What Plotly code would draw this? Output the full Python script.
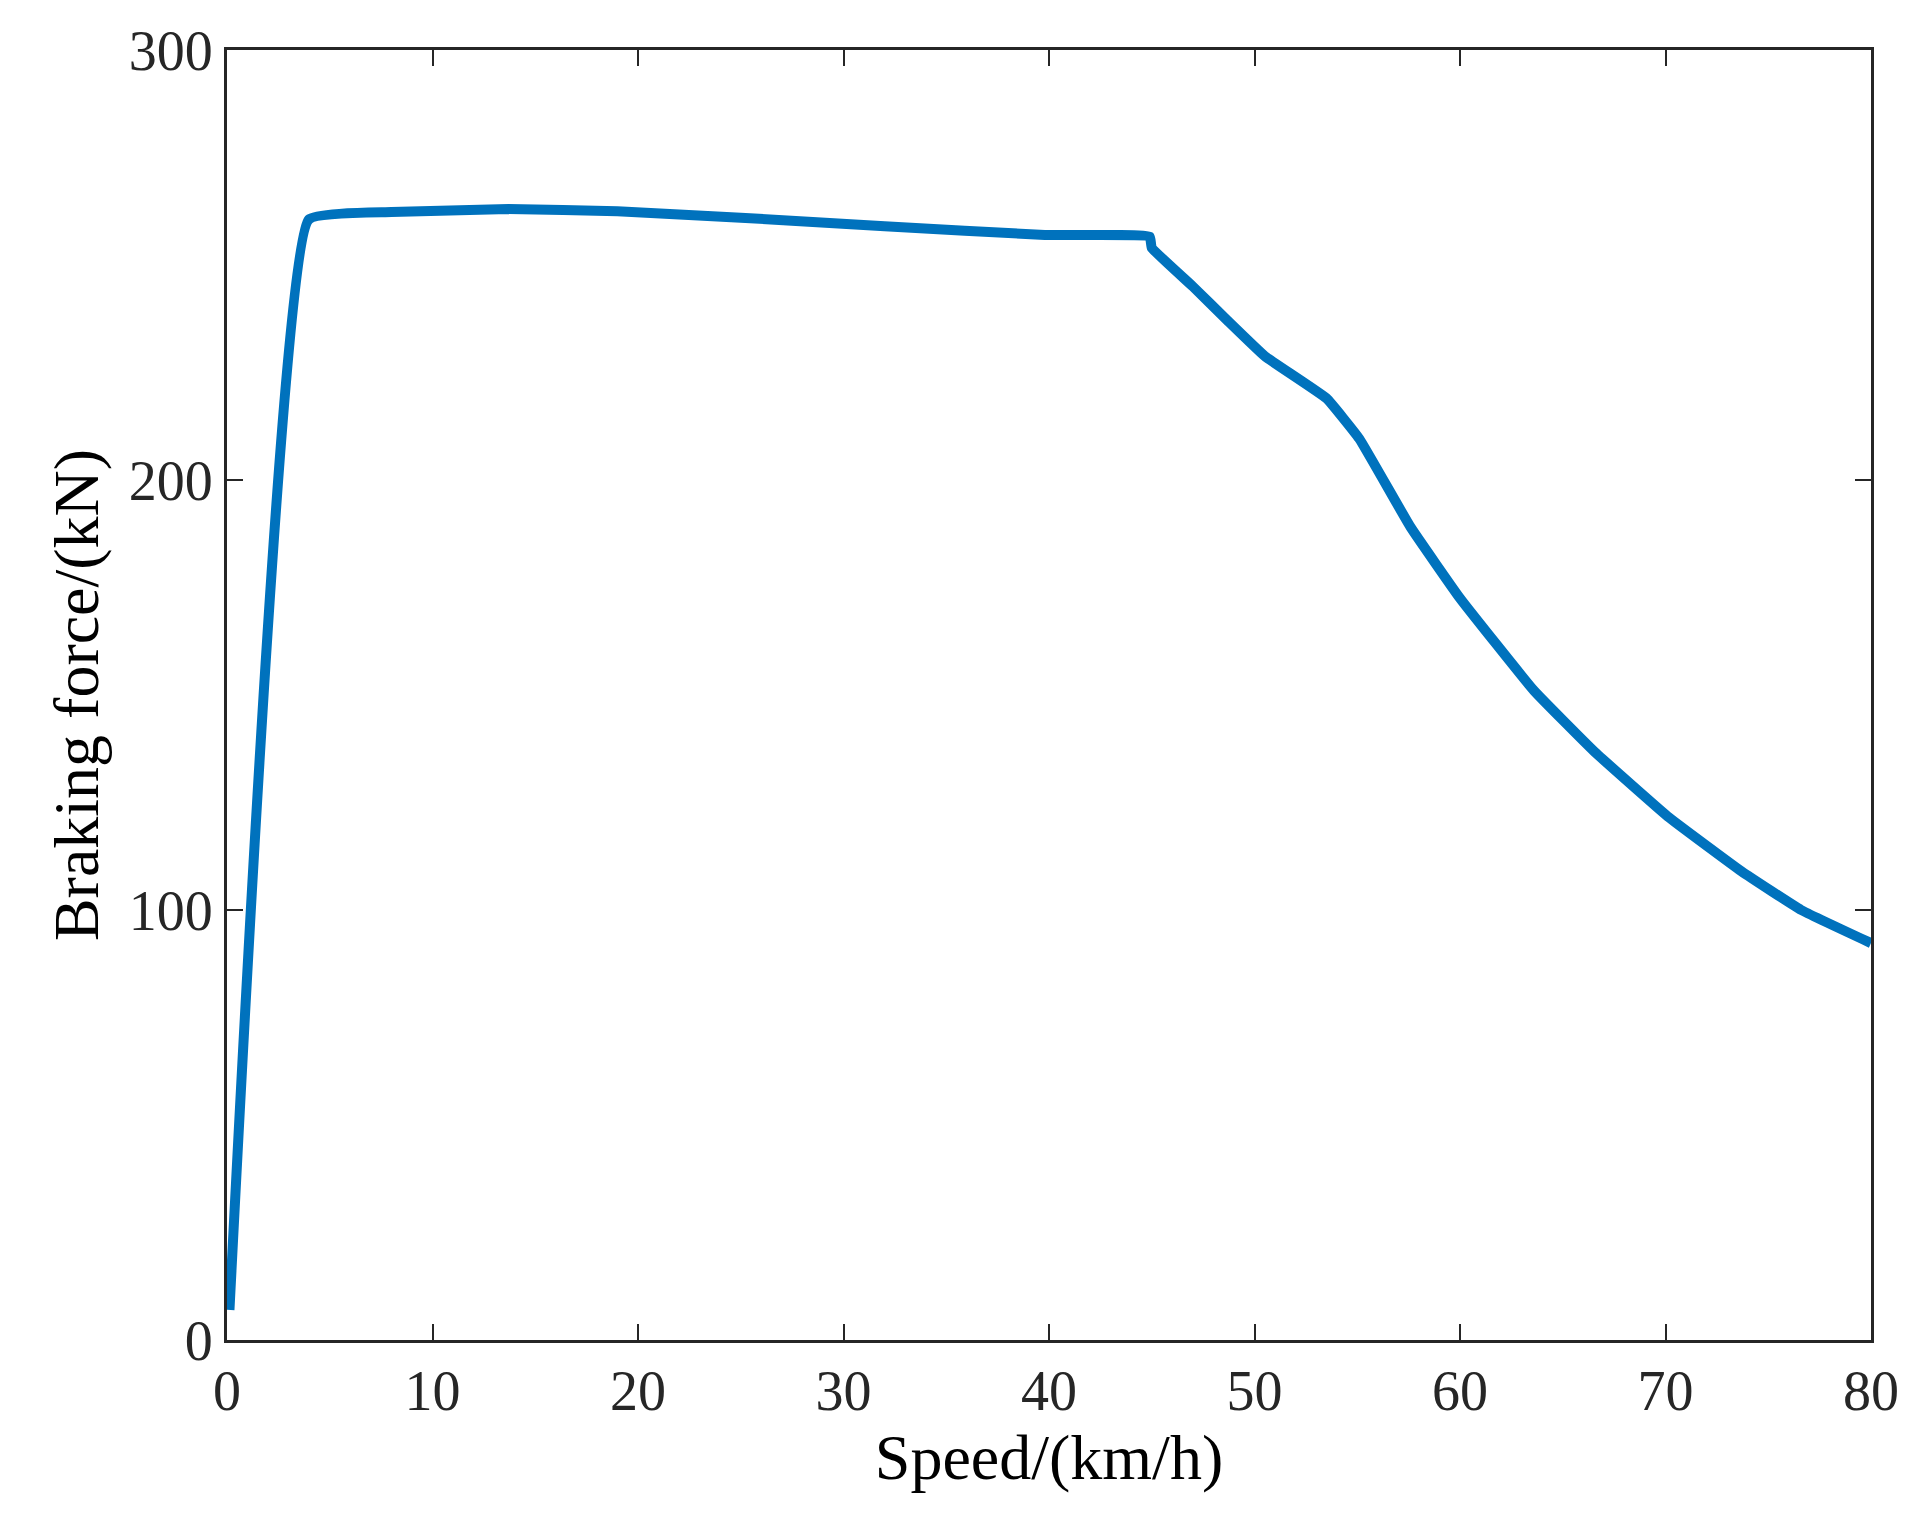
import plotly.graph_objects as go

speed = [0.12, 3.98, 8.0, 13.7, 19.0, 25.0, 32.0, 39.8, 44.9, 45.0, 47.0, 48.7, 50.5, 53.5, 55.1,
         57.6, 60.0, 63.6, 66.5, 70.1, 73.7, 76.6, 80.0]
force = [7.0, 260.6, 262.3, 263.0, 262.5, 261.0, 259.0, 257.0, 256.6, 254.0, 245.0, 237.0, 228.8,
         219.0, 209.6, 189.0, 172.5, 151.0, 137.0, 121.8, 109.0, 100.0, 92.3]

fig = go.Figure(go.Scatter(x=speed, y=force, mode="lines",
                           line=dict(color="#0072BD", width=10, shape="spline", smoothing=0.3)))
font = "Liberation Serif"
ax = dict(showline=True, linecolor="#262626", linewidth=3, mirror="ticks", ticks="inside",
          ticklen=16, tickwidth=2, tickcolor="#262626", showgrid=False, zeroline=False,
          tickfont=dict(family=font, size=56, color="#262626"))
fig.update_xaxes(range=[0, 80], dtick=10, title=dict(text="Speed/(km/h)", font=dict(family=font, size=64, color="black"), standoff=10), **ax)
fig.update_yaxes(range=[0, 300], dtick=100, title=dict(text="Braking force/(kN)", font=dict(family=font, size=64, color="black"), standoff=10), **ax)
fig.update_layout(width=1913, height=1521, margin=dict(l=219, r=50, t=33, b=189),
                  plot_bgcolor="white", paper_bgcolor="white", showlegend=False)
fig.write_html("out.html")
